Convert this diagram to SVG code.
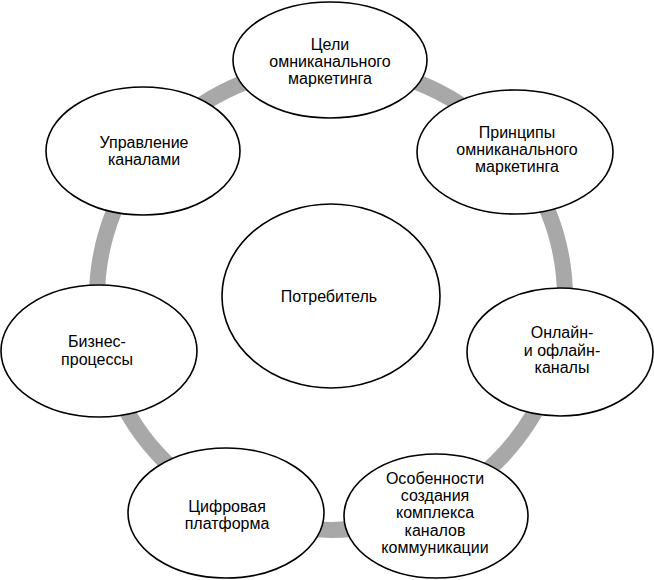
<svg xmlns="http://www.w3.org/2000/svg" width="654" height="580" viewBox="0 0 654 580">
<style>
.ring{fill:none;stroke:#a8a8a8;stroke-width:16}
.node ellipse{fill:#fff;stroke:#000;stroke-width:1.6}
.node text{font-family:"Liberation Sans",Arial,sans-serif;font-size:16px;fill:#000;text-anchor:middle}
</style>
<rect width="654" height="580" fill="#fff"/>
<g id="connectors">
<ellipse class="ring" cx="331" cy="298" rx="234" ry="232"/>
</g>
<g id="n-center" class="node">
<ellipse cx="331" cy="296" rx="109" ry="92"/>
<text x="329" y="302">Потребитель</text>
</g>
<g id="n-goals" class="node">
<ellipse cx="330" cy="60" rx="97" ry="58"/>
<text x="330" y="50">Цели</text>
<text x="330" y="67">омниканального</text>
<text x="330" y="84">маркетинга</text>
</g>
<g id="n-principles" class="node">
<ellipse cx="515" cy="152" rx="98" ry="62"/>
<text x="517" y="138">Принципы</text>
<text x="517" y="155">омниканального</text>
<text x="517" y="172">маркетинга</text>
</g>
<g id="n-channels" class="node">
<ellipse cx="560" cy="352" rx="93" ry="64"/>
<text x="562" y="338">Онлайн-</text>
<text x="562" y="356">и офлайн-</text>
<text x="562" y="373">каналы</text>
</g>
<g id="n-features" class="node">
<ellipse cx="436" cy="516" rx="92" ry="62"/>
<text x="435" y="484">Особенности</text>
<text x="435" y="501">создания</text>
<text x="435" y="518">комплекса</text>
<text x="435" y="536">каналов</text>
<text x="435" y="553">коммуникации</text>
</g>
<g id="n-platform" class="node">
<ellipse cx="226" cy="513" rx="98" ry="65"/>
<text x="227" y="512">Цифровая</text>
<text x="227" y="529">платформа</text>
</g>
<g id="n-business" class="node">
<ellipse cx="99" cy="351" rx="98" ry="66"/>
<text x="97" y="347">Бизнес-</text>
<text x="97" y="365">процессы</text>
</g>
<g id="n-management" class="node">
<ellipse cx="143" cy="151" rx="97" ry="64"/>
<text x="144" y="148">Управление</text>
<text x="144" y="165">каналами</text>
</g>
</svg>
